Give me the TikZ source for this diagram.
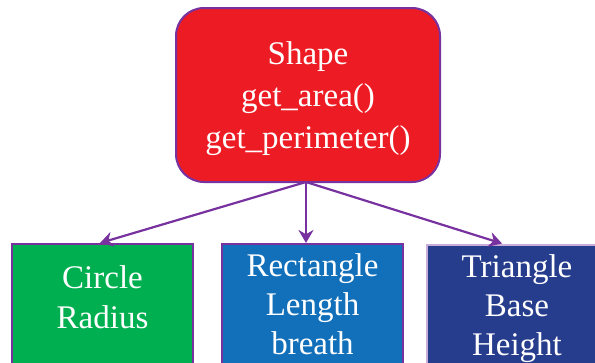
\documentclass[tikz,border=0pt]{standalone}
\usepackage{fontspec}
\setmainfont{Liberation Serif}
\usetikzlibrary{arrows.meta}
\definecolor{shapered}{RGB}{237,28,36}
\definecolor{circgreen}{RGB}{0,176,80}
\definecolor{rectblue}{RGB}{18,112,186}
\definecolor{trinavy}{RGB}{38,60,140}
\definecolor{edgepurple}{RGB}{120,50,160}
\tikzset{
  box/.style={draw=edgepurple, line width=2pt, inner sep=0pt},
  bottombox/.style={box, anchor=north, minimum width=181pt, minimum height=135pt},
  txt/.style={text=white, align=center, font=\fontsize{33}{39}\selectfont},
  conn/.style={draw=edgepurple, line width=2.2pt, -{Stealth[length=13pt,width=15pt]}}
}
\begin{document}
\begin{tikzpicture}[x=1pt,y=-1pt]
\useasboundingbox (0,0) rectangle (595,362);
\clip (0,0) rectangle (595,362);
\node[box, fill=shapered, rounded corners=28pt, minimum width=264pt, minimum height=174pt] (shape) at (308,95) {};
\node[txt, font=\fontsize{33}{42}\selectfont] (shapetxt) at ([yshift=-4pt]shape.center)
  {Shape\\get\_area()\\get\_perimeter()};
\node[bottombox, fill=circgreen] (circle) at (102.5,243) {};
\node[bottombox, fill=rectblue] (rect) at (312.5,243) {};
\node[bottombox, fill=trinavy, draw=edgepurple!40] (tri) at (517,243.5) {};
\node[txt, font=\fontsize{33}{40}\selectfont] (circletxt) at ([yshift=-54pt]circle.north) {Circle\\Radius};
\node[txt] (recttxt) at ([yshift=-61pt]rect.north) {Rectangle\\Length\\breath};
\node[txt] (tritxt) at ([yshift=-65pt]tri.north) {Triangle\\Base\\Height};
\coordinate (src) at (306,182);
\draw[conn] (src) -- (circle.north -| 100,0);
\draw[conn] (src) -- (rect.north -| 306,0);
\draw[conn] (src) -- (tri.north -| 502,0);
\end{tikzpicture}
\end{document}
